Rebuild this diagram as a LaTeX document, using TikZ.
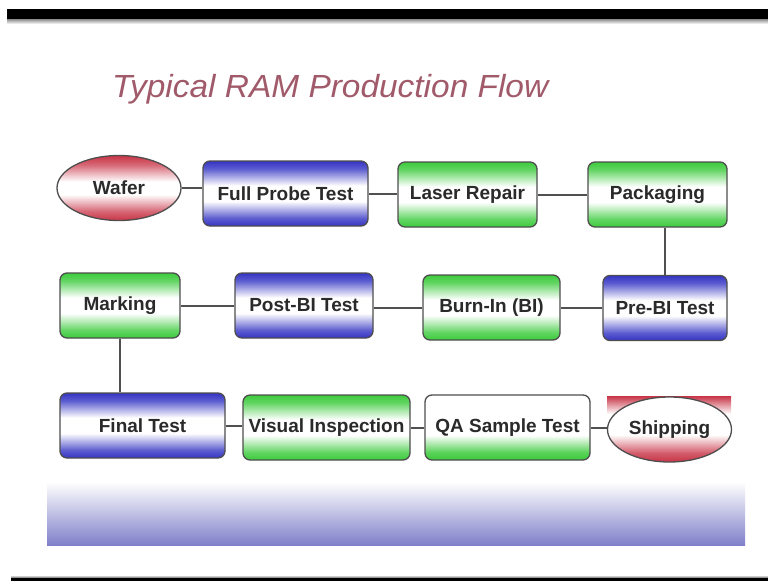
\documentclass[tikz,border=0pt]{standalone}
\usepackage{fontspec}
\setmainfont{Liberation Sans}
\usetikzlibrary{shapes.geometric}

\definecolor{bluec}{HTML}{3434C4}
\definecolor{greenc}{HTML}{3CCB3C}
\definecolor{redc}{HTML}{C83446}
\definecolor{edgec}{HTML}{4E4E4E}
\definecolor{linkc}{HTML}{505050}
\definecolor{txtc}{HTML}{2A2A2A}
\definecolor{titlec}{HTML}{A05A6A}
\definecolor{bandc}{HTML}{8080CA}

% vertical fills: coloured rim at top and bottom, white core
\pgfdeclareverticalshading{bluefill}{100bp}{color(0bp)=(bluec); color(25bp)=(bluec); color(31bp)=(bluec!80); color(44bp)=(white); color(56bp)=(white); color(69bp)=(bluec!80); color(75bp)=(bluec); color(100bp)=(bluec)}
\pgfdeclareverticalshading{greenfill}{100bp}{color(0bp)=(greenc); color(25bp)=(greenc); color(31bp)=(greenc!80); color(44bp)=(white); color(56bp)=(white); color(69bp)=(greenc!80); color(75bp)=(greenc); color(100bp)=(greenc)}
\pgfdeclareverticalshading{greenlow}{100bp}{color(0bp)=(greenc); color(25bp)=(greenc); color(31bp)=(greenc!85); color(44bp)=(white); color(100bp)=(white)}
\pgfdeclareverticalshading{redfill}{100bp}{color(0bp)=(redc); color(25bp)=(redc); color(32bp)=(redc!75); color(45bp)=(white); color(55bp)=(white); color(68bp)=(redc!75); color(75bp)=(redc); color(100bp)=(redc)}
\pgfdeclareverticalshading{redlow}{100bp}{color(0bp)=(redc); color(25bp)=(redc); color(32bp)=(redc!80); color(46bp)=(white); color(100bp)=(white)}

\tikzset{
  stepbox/.style={rectangle, rounded corners=7pt, draw=edgec, line width=1.3pt,
    font=\bfseries\fontsize{19}{21}\selectfont, text=txtc, inner sep=0pt,
    minimum height=65pt},
  bluestep/.style={stepbox, shade, shading=bluefill},
  greenstep/.style={stepbox, shade, shading=greenfill},
  greenlowstep/.style={stepbox, shade, shading=greenlow},
  endpoint/.style={ellipse, draw=edgec, line width=1.3pt,
    font=\bfseries\fontsize{19}{21}\selectfont, text=txtc, inner sep=0pt,
    minimum width=124pt, minimum height=65pt},
  link/.style={draw=linkc, line width=2pt}
}

\begin{document}
\begin{tikzpicture}[x=1pt,y=-1pt]
  \useasboundingbox (0,0) rectangle (768,581);
  \fill[white] (0,0) rectangle (768,581);

  % frame bars
  \fill[black] (7,9) rectangle (768,19);
  \shade[top color=black!45, bottom color=white] (7,19) rectangle (768,24);
  \fill[black] (11,577) rectangle (768,581);
  \shade[top color=white, bottom color=black!40] (11,575) rectangle (768,577);

  % bottom band
  \shade[top color=white, bottom color=bandc] (47,482) rectangle (745,545);

  % title
  \node[anchor=base west, inner sep=0pt, text=titlec, xscale=1.045,
        font=\itshape\fontsize{32}{35}\selectfont] (title) at (112,97)
        {Typical RAM Production Flow};

  % red rim behind the last terminal
  \shade[top color=redc, bottom color=white] (607,396) rectangle (731,414);

  % row 1
  \node[endpoint, shade, shading=redfill] (wafer) at (119,188) {Wafer};
  \node[bluestep, minimum width=165pt] (fpt) at (285.5,193.5) {Full Probe Test};
  \node[greenstep, minimum width=139pt] (laser) at (467.5,194.5) {Laser Repair};
  \node[greenstep, minimum width=139pt] (pack) at (657.5,194.5) {Packaging};

  % row 2
  \node[bluestep, minimum width=124pt] (prebi) at (665,308) {Pre-BI Test};
  \node[greenstep, minimum width=137pt] (burnin) at (491.5,307.5) {Burn-In (BI)};
  \node[bluestep, minimum width=138pt] (postbi) at (304,305.5) {Post-BI Test};
  \node[greenstep, minimum width=120pt] (marking) at (120,305.5) {Marking};

  % row 3
  \node[bluestep, minimum width=165pt] (final) at (142.5,425.5) {Final Test};
  \node[greenstep, minimum width=167pt] (visual) at (326.5,427.5) {Visual Inspection};
  \node[greenlowstep, minimum width=165pt] (qa) at (507.5,427.5) {QA Sample Test};
  \node[endpoint, shade, shading=redlow] (ship) at (669.5,429.5) {Shipping};

  % connectors
  \draw[link] (wafer.east) -- (wafer.east -| fpt.west);
  \draw[link] (fpt.east) -- (fpt.east -| laser.west);
  \draw[link] (laser.east) -- (laser.east -| pack.west);
  \draw[link] (prebi.north) -- (prebi.north |- pack.south);
  \draw[link] (prebi.west) -- (prebi.west -| burnin.east);
  \draw[link] (burnin.west) -- (burnin.west -| postbi.east);
  \draw[link] (postbi.west) -- (postbi.west -| marking.east);
  \draw[link] (marking.south) -- (marking.south |- final.north);
  \draw[link] (final.east) -- (final.east -| visual.west);
  \draw[link] (visual.east) -- (visual.east -| qa.west);
  \draw[link] (qa.east) -- (qa.east -| ship.west);
\end{tikzpicture}
\end{document}
